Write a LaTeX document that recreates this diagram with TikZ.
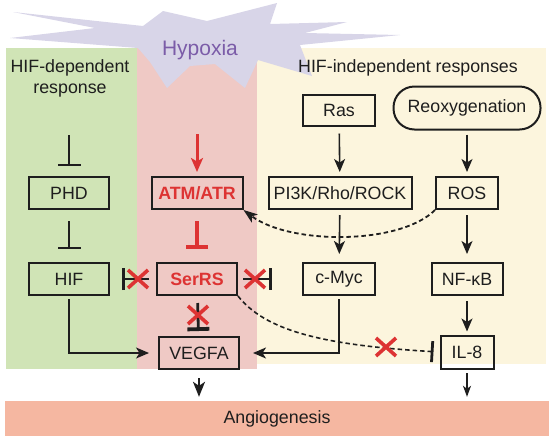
\documentclass[tikz,border=0pt]{standalone}
\usepackage{fontspec}
\setmainfont{Liberation Sans}
\usetikzlibrary{arrows.meta}
\definecolor{lc}{HTML}{1E1E1E}
\definecolor{gpan}{HTML}{D0E4B6}
\definecolor{ppan}{HTML}{EFC9C5}
\definecolor{ypan}{HTML}{FCF5DD}
\definecolor{lav}{HTML}{D8D5E8}
\definecolor{hypc}{HTML}{7B5CA8}
\definecolor{rc}{HTML}{DD3333}
\definecolor{angc}{HTML}{F5B7A1}
\newcommand{\fs}{\fontsize{17.8}{21}\selectfont}
\tikzset{
 box/.style={draw=lc, line width=2pt, minimum height=32pt, inner sep=0pt, font=\fs, text=lc},
 redbox/.style={box, text=rc, font=\fs\bfseries},
 lbl/.style={font=\fs, text=lc, align=center, inner sep=0pt},
 arr/.style={draw=lc, line width=1.6pt, -{Stealth[length=13pt,width=11pt,inset=3.5pt]}},
 bigarr/.style={draw=lc, line width=1.8pt, -{Stealth[length=15pt,width=12pt,inset=4pt]}},
 smallarr/.style={draw=lc, line width=1.4pt, -{Stealth[length=11pt,width=8pt,inset=3pt]}},
 redarr/.style={draw=rc, line width=3pt, -{Stealth[length=14pt,width=12pt,inset=3.5pt]}},
 inh/.style={draw=lc, line width=1.6pt, -{Bar[width=23pt,line width=2pt]}},
 redinh/.style={draw=rc, line width=3.2pt, -{Bar[width=22pt,line width=3.8pt]}},
 blkinh/.style={draw=lc, line width=2.8pt, -{Bar[width=22pt,line width=3.8pt]}},
 sideinh/.style={draw=lc, line width=2.8pt, -{Bar[width=22pt,line width=3.4pt]}},
 dasharr/.style={draw=lc, line width=1.8pt, dash pattern=on 4.5pt off 3pt, -{Stealth[length=14pt,width=10pt,inset=3.5pt]}},
 dashinh/.style={draw=lc, line width=1.6pt, dash pattern=on 4.5pt off 3pt, -{Bar[width=21pt,line width=2.8pt]}},
 redx/.pic={\draw[rc, line width=3.6pt] (-10,-9) -- (10,9) (-10,9) -- (10,-9);}
}
\begin{document}
\begin{tikzpicture}[x=1pt,y=-1pt]
\useasboundingbox (0,0) rectangle (556,440);
% panels
\fill[ppan] (137,48) rectangle (257,369);
\fill[ypan] (257,48) rectangle (546,364);
\fill[lav] (13,12) -- (143,26) -- (163,11) -- (207,21) -- (277,3) -- (270,24) -- (347,22)
  -- (305,33) -- (400,35) -- (300,45) -- (312,76) -- (258,60) -- (245,88) -- (215,64)
  -- (190,66) -- (167,88) -- (150,62) -- (138,48) -- (10,38) -- (95,28) -- cycle;
\fill[gpan] (6,48) rectangle (137,369);
\node[font=\fontsize{21}{24}\selectfont, text=hypc, inner sep=0pt] (hyp) at (200,50) {Hypoxia};
\node[lbl] (hdep) at (70,78) {HIF-dependent\\response};
\node[lbl] (hind) at (408,68) {HIF-independent responses};
% bottom bar
\node[fill=angc, minimum width=544pt, minimum height=35pt, inner sep=0pt, font=\fs, text=lc] (ang) at (277,418.5) {Angiogenesis};
% boxes
\node[box, minimum width=80pt] (PHD) at (69,193) {PHD};
\node[box, minimum width=80pt] (HIF) at (69,279) {HIF};
\node[redbox, minimum width=91pt] (ATM) at (197,193) {ATM/ATR};
\node[redbox, minimum width=80pt] (SerRS) at (197,279) {SerRS};
\node[box, minimum width=80pt] (VEGFA) at (199,353) {VEGFA};
\node[box, minimum width=72pt, minimum height=31pt] (Ras) at (339,110) {Ras};
\node[box, minimum width=147pt, minimum height=43pt, rounded corners=21pt] (Reox) at (467,108) {Reoxygenation};
\node[box, minimum width=143pt] (PI3K) at (340,193) {PI3K/Rho/ROCK};
\node[box, minimum width=62pt] (ROS) at (467,193) {ROS};
\node[box, minimum width=72pt] (cMyc) at (339,279) {c-Myc};
\node[box, minimum width=71pt] (NFkB) at (467,279) {NF-κB};
\node[box, minimum width=53pt, minimum height=33pt] (IL8) at (467,352) {IL-8};
% free starts
\coordinate (phdT) at (69,135);
\coordinate (atmT) at (197,134);
% green column
\draw[inh, shorten >=10pt] (phdT) -- (PHD);
\draw[inh, shorten <=11pt, shorten >=13pt] (PHD) -- (HIF);
% red column
\draw[redarr, shorten >=4pt] (atmT) -- (ATM);
\draw[redinh, shorten <=11pt, shorten >=13pt] (ATM) -- (SerRS);
\draw[blkinh, shorten <=7pt, shorten >=5pt] (SerRS) -- (VEGFA);
\pic at (198,315) {redx};
% side inhibitions of SerRS
\draw[sideinh, shorten <=7pt, shorten >=12pt] (SerRS) -- (HIF);
\pic at (138,279) {redx};
\draw[sideinh, shorten <=5pt, shorten >=30pt] (SerRS) -- (cMyc);
\pic at (255,279) {redx};
% yellow column
\draw[arr, shorten <=7pt, shorten >=4pt] (Ras) -- (PI3K);
\draw[arr, shorten <=4pt, shorten >=4pt] (Reox) -- (ROS);
\draw[arr, shorten <=5pt, shorten >=8pt] (PI3K) -- (cMyc);
\draw[arr, shorten <=5pt, shorten >=8pt] (ROS) -- (NFkB);
\draw[arr, shorten <=5pt, shorten >=3pt] (NFkB) -- (IL8);
\draw[dasharr] (ROS.south west) .. controls (400,245) and (290,245) .. (ATM.south east);
\draw[dashinh, shorten >=6pt] (SerRS.south east) .. controls (265,330) and (320,345) .. (IL8.west);
\pic at (386,347) {redx};
% to VEGFA
\draw[arr, shorten <=3pt, shorten >=9pt] (HIF.south) |- (VEGFA.west);
\draw[arr, shorten <=3pt, shorten >=13pt] (cMyc.south) |- (VEGFA.east);
% to angiogenesis
\draw[bigarr, shorten <=8pt, shorten >=4pt] (VEGFA) -- (VEGFA |- ang.north);
\draw[smallarr, shorten <=3.5pt, shorten >=4pt] (IL8) -- (IL8 |- ang.north);
\end{tikzpicture}
\end{document}
